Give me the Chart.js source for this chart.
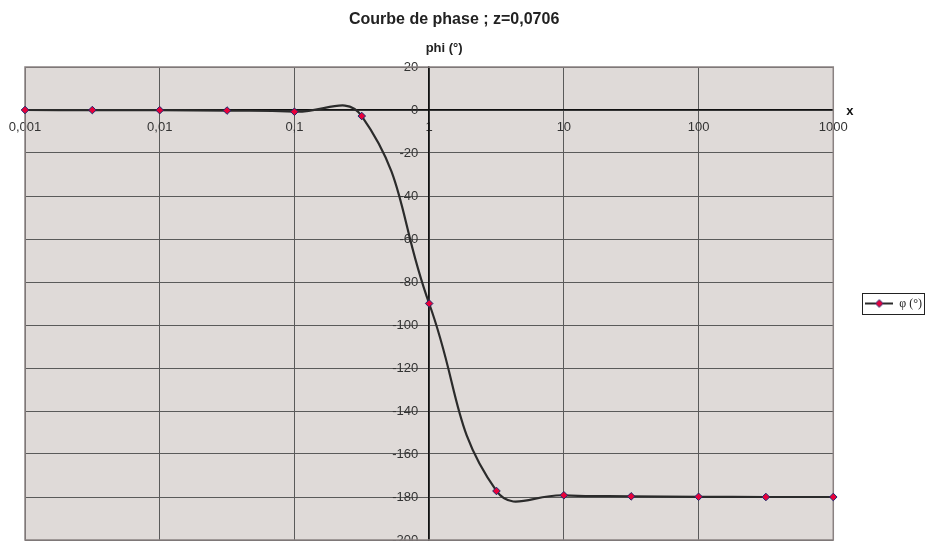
<!DOCTYPE html>
<html>
<head>
<meta charset="utf-8">
<script src="https://cdn.jsdelivr.net/npm/chart.js@4/dist/chart.umd.min.js"></script>
<style>
  html, body { margin: 0; padding: 0; background: #ffffff; }
  #wrap { width: 925px; height: 541px; position: relative; }
</style>
</head>
<body>
<div id="wrap"><canvas id="c" width="925" height="541"></canvas></div>
<script>
// ---- data ----
const chartTitle = "Courbe de phase ; z=0,0706";
const yAxisTitle = "phi (°)";
const xAxisTitle = "x";
const seriesName = "φ (°)";
const xValues = [0.001, 0.00316, 0.01, 0.0316, 0.1, 0.316, 1, 3.16, 10, 31.6, 100, 316, 1000];
const phiValues = [0, -0.03, -0.08, -0.26, -0.8, -2.8, -90, -177.2, -179.2, -179.7, -179.9, -180, -180];
const xTicks = [0.001, 0.01, 0.1, 1, 10, 100, 1000];
const xTickLabels = ["0,001", "0,01", "0,1", "1", "10", "100", "1000"];
const yMin = -200, yMax = 20, yStep = 20;

const SANS = '"Liberation Sans", Arial, sans-serif';

// legend sample: line with diamond marker
const sample = document.createElement('canvas');
sample.width = 28; sample.height = 10;
(function () {
  const g = sample.getContext('2d');
  g.strokeStyle = '#2b2b2b'; g.lineWidth = 2;
  g.beginPath(); g.moveTo(0, 5); g.lineTo(28, 5); g.stroke();
  g.beginPath();
  g.moveTo(14, 1.2); g.lineTo(17.8, 5); g.lineTo(14, 8.8); g.lineTo(10.2, 5); g.closePath();
  g.fillStyle = '#e8003a'; g.fill();
  g.strokeStyle = '#1f2a6e'; g.lineWidth = 1; g.stroke();
})();

const plotDecor = {
  id: 'plotDecor',
  afterLayout(chart) {
    // Excel centres the chart title / axis title a little right of the plot centre
    chart.boxes.forEach(b => {
      if (b && b.options && b.options.text === chartTitle) { b.left += 25; b.right += 25; }
      if (b && b.options && b.options.text === yAxisTitle) { b.left += 15; b.right += 15; }
    });
  },
  beforeDraw(chart) {
    const a = chart.chartArea, ctx = chart.ctx;
    ctx.save();
    ctx.fillStyle = '#dfdad8';
    ctx.fillRect(a.left, a.top, a.right - a.left, a.bottom - a.top);
    ctx.restore();
  },
  beforeDatasetsDraw(chart) {
    const a = chart.chartArea, ctx = chart.ctx;
    ctx.save();
    ctx.strokeStyle = '#8a8282';
    ctx.lineWidth = 1.5;
    ctx.strokeRect(a.left, a.top, a.right - a.left, a.bottom - a.top);
    ctx.restore();
  },
  afterDraw(chart) {
    const a = chart.chartArea, ctx = chart.ctx;
    ctx.save();
    // x axis title at the right end of the x axis
    const y0 = chart.scales.y.getPixelForValue(0);
    ctx.fillStyle = '#111';
    ctx.font = 'bold 13px ' + SANS;
    ctx.textAlign = 'left';
    ctx.textBaseline = 'middle';
    ctx.fillText(xAxisTitle, a.right + 13, y0 + 1);
    // legend border
    const hb = chart.legend && chart.legend.legendHitBoxes && chart.legend.legendHitBoxes[0];
    if (hb) {
      ctx.strokeStyle = '#222';
      ctx.lineWidth = 1;
      ctx.strokeRect(Math.round(hb.left - 3) + 0.5, Math.round(hb.top - 5) + 0.5, Math.round(hb.width + 5), Math.round(hb.height + 9));
    }
    ctx.restore();
  }
};

new Chart(document.getElementById('c'), {
  type: 'line',
  data: {
    datasets: [{
      label: seriesName,
      data: xValues.map((x, i) => ({ x: x, y: phiValues[i] })),
      borderColor: '#2b2b2b',
      borderWidth: 2.2,
      tension: 0.45,
      clip: false,
      pointStyle: 'rectRot',
      pointRadius: 3.8,
      pointBackgroundColor: '#e8003a',
      pointBorderColor: '#1f2a6e',
      pointBorderWidth: 1,
      fill: false
    }]
  },
  options: {
    responsive: false,
    animation: false,
    devicePixelRatio: 1,
    layout: { autoPadding: false, padding: { left: 25, right: -7, top: 0, bottom: 1 } },
    scales: {
      x: {
        type: 'logarithmic',
        min: 0.001, max: 1000,
        position: { y: 0 },
        afterBuildTicks(scale) { scale.ticks = xTicks.map(v => ({ value: v })); },
        afterFit(scale) { scale.paddingLeft = 0; scale.paddingRight = 0; scale.paddingTop = 0; scale.paddingBottom = 0; },
        ticks: {
          autoSkip: false,
          maxRotation: 0,
          padding: 2,
          color: '#333',
          font: { family: SANS, size: 13 },
          callback(value) {
            const i = xTicks.findIndex(t => Math.abs(Math.log10(t) - Math.log10(value)) < 1e-6);
            return i >= 0 ? xTickLabels[i] : '';
          }
        },
        grid: { color: '#5a5a5a', lineWidth: 1, drawTicks: true, tickLength: 8 },
        border: { color: '#111', width: 1.5 }
      },
      y: {
        type: 'linear',
        min: yMin, max: yMax,
        position: { x: 1 },
        afterFit(scale) { scale.paddingTop = 0; scale.paddingBottom = 0; scale.paddingLeft = 0; scale.paddingRight = 0; },
        ticks: {
          stepSize: yStep,
          autoSkip: false,
          color: '#333',
          font: { family: SANS, size: 13 },
          callback(v) { return String(v) + '\u00a0\u00a0\u00a0'; }
        },
        grid: { color: '#5a5a5a', lineWidth: 1, tickLength: 6 },
        border: { color: '#111', width: 1.5 }
      }
    },
    plugins: {
      title: {
        display: true,
        text: chartTitle,
        fullSize: false,
        color: '#222',
        font: { family: SANS, size: 16, weight: 'bold' },
        padding: { top: 10, bottom: 9 }
      },
      subtitle: {
        display: true,
        text: yAxisTitle,
        fullSize: false,
        color: '#222',
        font: { family: SANS, size: 13, weight: 'bold' },
        padding: { top: 2.5, bottom: 10.7 }
      },
      legend: {
        display: true,
        position: 'right',
        align: 'center',
        fullSize: false,
        labels: {
          usePointStyle: true,
          pointStyle: sample,
          pointStyleWidth: 28,
          padding: 32,
          color: '#222',
          font: { family: '"Liberation Serif", "DejaVu Serif", serif', size: 12 }
        }
      },
      tooltip: { enabled: false }
    }
  },
  plugins: [plotDecor]
});
</script>
</body>
</html>
